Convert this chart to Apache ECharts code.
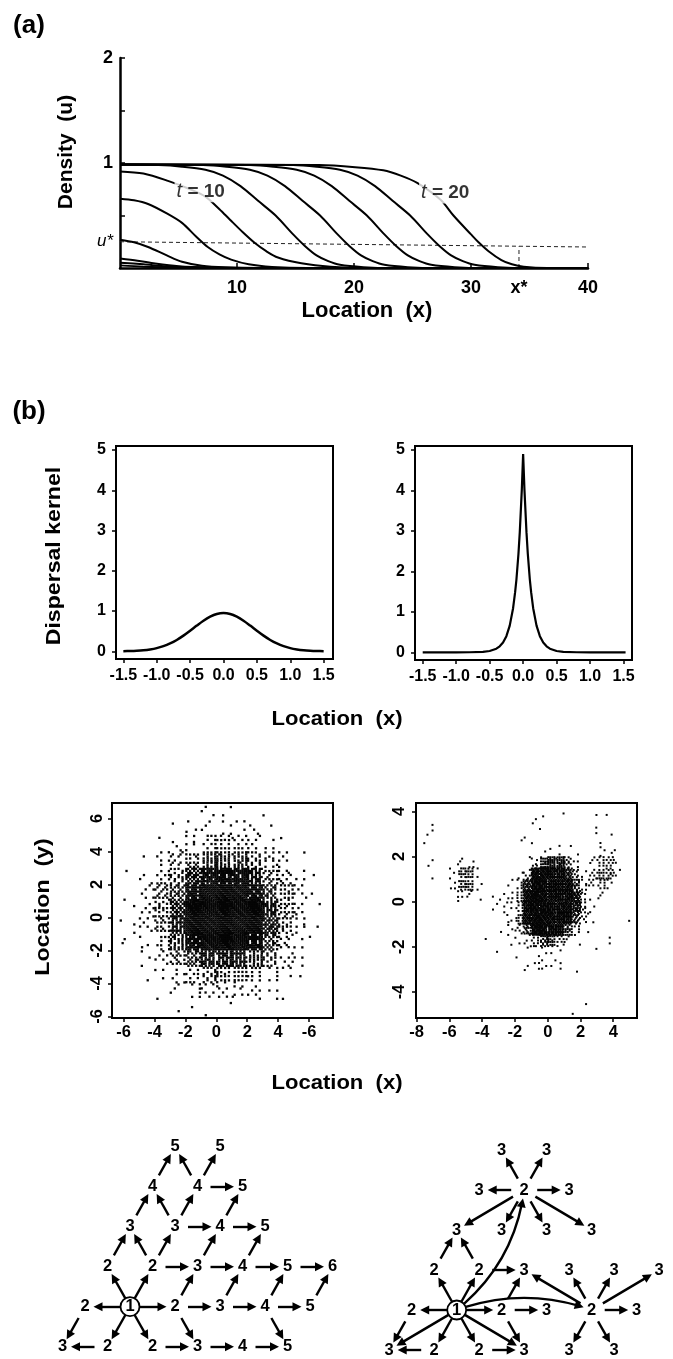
<!DOCTYPE html>
<html><head><meta charset="utf-8">
<script src="https://cdn.jsdelivr.net/npm/echarts@6/dist/echarts.min.js"></script>
<style>html,body{margin:0;padding:0;background:#fff}#c{width:673px;height:1359px}</style>
</head><body><div id="c"></div>
<script>
const FONT = "'Liberation Sans', Arial, Helvetica, sans-serif";

// ---------------- Panel (a): travelling wave ----------------
const waveTimes = [0, 2, 4, 6, 8, 10, 12, 14, 16, 18, 20];
const wave_t0  = [[0,0.025],[2,0.013],[5,0.003],[8,0],[40,0]];
const wave_t2  = [[0,0.05],[2,0.035],[4,0.016],[7,0.004],[10,0],[40,0]];
const wave_t4  = [[0,0.09],[1.5,0.07],[3,0.042],[5,0.016],[8,0.003],[11,0],[40,0]];
const wave_t6  = [[0,0.27],[1.2,0.245],[2.4,0.2],[4,0.12],[5.3,0.06],[7,0.022],[9,0.006],[12,0],[40,0]];
const wave_t8  = [[0,0.66],[1.2,0.645],[2.4,0.61],[4,0.52],[5.3,0.43],[6.5,0.3],[7.5,0.2],[8.5,0.13],[9.5,0.08],[11,0.035],[13,0.01],[16,0],[40,0]];
const wave_t10 = [[0,0.92],[2,0.9],[4.1,0.83],[6,0.75],[7.3,0.68],[8.5,0.56],[9.4,0.46],[10.5,0.34],[11.5,0.24],[12.5,0.16],[13.5,0.1],[15.5,0.045],[18,0.012],[21,0],[40,0]];
const wave_t12 = [[0,0.985],[3.3,0.98],[5.3,0.965],[7.3,0.935],[8.8,0.88],[10.3,0.78],[11.8,0.64],[13.3,0.5],[14.8,0.32],[15.8,0.21],[16.8,0.12],[17.8,0.065],[18.8,0.03],[20.8,0.008],[23.3,0],[40,0]];
const wave_t14 = [[0,0.985],[7.1,0.98],[9.1,0.965],[11.1,0.935],[12.6,0.88],[14.1,0.78],[15.6,0.64],[17.1,0.5],[18.6,0.32],[19.6,0.21],[20.6,0.12],[21.6,0.065],[22.6,0.03],[24.6,0.008],[27.1,0],[40,0]];
const wave_t16 = [[0,0.985],[11.1,0.98],[13.1,0.965],[15.1,0.935],[16.6,0.88],[18.1,0.78],[19.6,0.64],[21.1,0.5],[22.6,0.32],[23.6,0.21],[24.6,0.12],[25.6,0.065],[26.6,0.03],[28.6,0.008],[31.1,0],[40,0]];
const wave_t18 = [[0,0.985],[14.8,0.98],[16.8,0.965],[18.8,0.935],[20.3,0.88],[21.8,0.78],[23.3,0.64],[24.8,0.5],[26.3,0.32],[27.3,0.21],[28.3,0.12],[29.3,0.065],[30.3,0.03],[32.3,0.008],[34.8,0],[40,0]];
const wave_t20 = [[0,0.985],[17,0.98],[20.1,0.96],[22.5,0.93],[24,0.88],[25.4,0.81],[27.4,0.65],[28.5,0.5],[30,0.32],[30.6,0.25],[31.5,0.16],[32.6,0.076],[33.5,0.035],[34.5,0.012],[36.5,0],[40,0]];
const waveCurves = [wave_t0, wave_t2, wave_t4, wave_t6, wave_t8, wave_t10, wave_t12, wave_t14, wave_t16, wave_t18, wave_t20];
const uStarLine = [[0,0.25],[40,0.2]];
const xStar = 34.1;
const xStarLine = [[34.1,0],[34.1,0.205]];
const densityTicks = [0.5, 1, 1.5, 2];
const densityLabels = [0.25, 1, 2];
const locationTicksA = [10, 20, 30, 40];
const locationLabelsA = [10, 20, 30, 34.1, 40];
const tLabels = [[6.9, 0.73, '10'], [27.8, 0.72, '20']];

// ---------------- Panel (b): dispersal kernels ----------------
const kernelX = [-1.5,-1.4,-1.3,-1.2,-1.1,-1.0,-0.9,-0.8,-0.7,-0.6,-0.5,-0.4,-0.3,-0.2,-0.1,0,0.1,0.2,0.3,0.4,0.5,0.6,0.7,0.8,0.9,1.0,1.1,1.2,1.3,1.4,1.5];
const gaussKernel = [0.004,0.008,0.015,0.027,0.048,0.08,0.129,0.196,0.283,0.39,0.512,0.64,0.761,0.86,0.927,0.95,0.927,0.86,0.761,0.64,0.512,0.39,0.283,0.196,0.129,0.08,0.048,0.027,0.015,0.008,0.004];
const laplaceKernel = [[-1.5,0],[-1.0,0],[-0.8,0.002],[-0.6,0.012],[-0.5,0.033],[-0.4,0.09],[-0.35,0.148],[-0.3,0.24],[-0.25,0.4],[-0.2,0.66],[-0.15,1.09],[-0.12,1.48],[-0.1,1.8],[-0.07,2.43],[-0.05,2.97],[-0.02,4.01],[0,4.9],
  [0.02,4.01],[0.05,2.97],[0.07,2.43],[0.1,1.8],[0.12,1.48],[0.15,1.09],[0.2,0.66],[0.25,0.4],[0.3,0.24],[0.35,0.148],[0.4,0.09],[0.5,0.033],[0.6,0.012],[0.8,0.002],[1.0,0],[1.53,0]];
const kernelXTicks = [-1.5,-1,-0.5,0,0.5,1,1.5];
const kernelYTicks = [0,1,2,3,4,5];

// ---------------- Panel (b): dispersal clouds (dots per cell) ----------------
// left cloud: 1 x 1 cells, rows y0 = 6 .. -6 (top to bottom), columns x0 = -7 .. 7
const leftCloudCounts = [
  [0,0,0,0,0,0,3,2,0,0,1,0,0,0,0],
  [0,0,0,0,1,3,3,4,3,3,1,0,0,0,0],
  [0,0,0,1,3,6,10,12,10,6,3,1,0,0,0],
  [0,0,1,6,10,17,28,30,28,17,10,6,1,0,0],
  [0,1,3,10,17,42,56,58,56,42,17,10,3,1,0],
  [0,1,6,17,28,56,64,64,64,56,28,17,6,1,1],
  [0,1,6,17,42,64,64,64,64,64,42,17,6,1,0],
  [1,2,6,17,42,64,64,64,64,64,42,17,6,1,0],
  [1,1,3,10,28,56,64,64,64,56,28,10,3,1,0],
  [0,0,3,6,17,28,42,44,42,28,17,6,3,0,0],
  [0,0,1,3,6,10,17,18,17,10,6,3,1,0,0],
  [0,0,0,1,3,6,6,6,6,6,3,1,0,0,0],
  [0,0,0,0,1,1,1,1,0,0,0,0,0,0,0]
];
// right cloud: 0.5 x 0.5 cells, density level 0-9, rows y0 = 4.0 .. -5.5, columns x0 = -8.0 .. 5.0
const rightCloudLevels = [
  "000000000000000000000000000",
  "000000000000001101000101000",
  "020000000000001100000200000",
  "110000000000111000000011000",
  "000000000000000112110031100",
  "020003300000014788630355200",
  "010036620000249999852466300",
  "000036620002489999974453000",
  "000004310123599999984130000",
  "000000000223599999985200000",
  "000000000003699999974100010",
  "000000000013479999741000000",
  "000000001001235775310002000",
  "000000000100111211000100000",
  "000000000000013322000000000",
  "000000000000010000010000000",
  "000000000000000000000000000",
  "000000000000000000000000000",
  "000000000000000000011000000",
  "000000000000000000000000000"
];
const levelCounts = [0,1,2,3,5,8,12,18,28,44];
const leftCloudXTicks = [-6,-4,-2,0,2,4,6];
const leftCloudXTickText = ['-6','-4','-2','0','2','4','-6'];
const leftCloudYTicks = [-6,-4,-2,0,2,4,6];
const rightCloudXTicks = [-8,-6,-4,-2,0,2,4];
const rightCloudYTicks = [-4,-2,0,2,4];

// ---------------- Panel (b): spread networks (lattice coords) ----------------
const netLeftNodes = [[1,0,'1'],[0,0,'2'],[2,0,'2'],[3,0,'3'],[4,0,'4'],[5,0,'5'],
  [-0.5,-1,'3'],[0.5,-1,'2'],[1.5,-1,'2'],[2.5,-1,'3'],[3.5,-1,'4'],[4.5,-1,'5'],
  [0.5,1,'2'],[1.5,1,'2'],[2.5,1,'3'],[3.5,1,'4'],[4.5,1,'5'],[5.5,1,'6'],
  [1,2,'3'],[2,2,'3'],[3,2,'4'],[4,2,'5'],[1.5,3,'4'],[2.5,3,'4'],[3.5,3,'5'],[2,4,'5'],[3,4,'5']];
const netLeftEdges = [[0,1],[0,2],[0,12],[0,13],[0,7],[0,8],[1,6],[7,6],[8,9],[9,10],[10,11],
  [2,3],[2,9],[2,14],[3,4],[3,15],[4,5],[4,11],[4,16],[5,17],[12,18],[13,18],[13,19],[13,14],
  [14,15],[14,20],[15,16],[15,21],[16,17],[18,22],[19,22],[19,23],[19,20],[20,21],[20,24],
  [22,25],[23,25],[23,26],[23,24]];
const netRightNodes = [[1,0,'1'],[0,0,'2'],[2,0,'2'],[3,0,'3'],[4,0,'2'],[5,0,'3'],
  [-0.5,-1,'3'],[0.5,-1,'2'],[1.5,-1,'2'],[2.5,-1,'3'],[3.5,-1,'3'],[4.5,-1,'3'],
  [0.5,1,'2'],[1.5,1,'2'],[2.5,1,'3'],[3.5,1,'3'],[4.5,1,'3'],[5.5,1,'3'],
  [1,2,'3'],[2,2,'3'],[3,2,'3'],[4,2,'3'],[1.5,3,'3'],[2.5,3,'2'],[3.5,3,'3'],[2,4,'3'],[3,4,'3']];
const netRightEdges = [[0,1],[0,2],[0,12],[0,13],[0,7],[0,8],[0,6],[0,9],[0,23,-0.2],[0,4,0.18],
  [1,6],[7,6],[8,9],[2,3],[2,14],[2,9],[12,18],[13,18],[13,14],
  [23,22],[23,24],[23,25],[23,26],[23,19],[23,20],[23,21],[23,18],
  [4,5],[4,15],[4,16],[4,17],[4,10],[4,11],[4,14]];

// ---------------- build ----------------
const BAYER8 = [0,32,8,40,2,34,10,42,48,16,56,24,50,18,58,26,12,44,4,36,14,46,6,38,60,28,52,20,62,30,54,22,3,35,11,43,1,33,9,41,51,19,59,27,49,17,57,25,15,47,7,39,13,45,5,37,63,31,55,23,61,29,53,21];
const JIT = [0.3,-0.4,0.1,-0.2,0.45,-0.05,-0.35,0.2];

const leftCloudCells = [];
leftCloudCounts.forEach((row, r) => row.forEach((n, c) => { if (n > 0) leftCloudCells.push([-7 + c, 6 - r, n]); }));
const rightCloudCells = [];
rightCloudLevels.forEach((row, r) => row.split('').forEach((ch, k) => { const lv = +ch; if (lv > 0) rightCloudCells.push([-8 + 0.5 * k, 4.0 - 0.5 * r, levelCounts[lv]]); }));

function makeDots(cell, dot, jit) {
  return function (params, api) {
    const x0 = api.value(0), y0 = api.value(1), n = api.value(2);
    const pA = api.coord([x0, y0 + cell]);
    const pB = api.coord([x0 + cell, y0]);
    const sx = (pB[0] - pA[0]) / 8, sy = (pB[1] - pA[1]) / 8;
    const ci = Math.round(x0 / cell), cj = Math.round(y0 / cell);
    const shift = (((ci * 29 + cj * 47) % 64) + 64) % 64;
    const children = [];
    for (let k = 0; k < 64; k++) {
      if ((BAYER8[k] + shift) % 64 < n) {
        const i = k % 8, j = (k / 8) | 0;
        const jx = JIT[(i * 3 + j * 5 + ci + 640) % 8] * sx * jit;
        const jy = JIT[(i * 5 + j * 3 + cj + 640) % 8] * sy * jit;
        children.push({ type: 'rect', shape: { x: pA[0] + (i + 0.5) * sx - dot / 2 + jx, y: pA[1] + (j + 0.5) * sy - dot / 2 + jy, width: dot, height: dot }, style: { fill: '#050505' } });
      }
    }
    return { type: 'group', children };
  };
}

function axisBase(gridIndex, extra) {
  return Object.assign({ gridIndex, type: 'value', splitLine: { show: false } }, extra);
}
const lbl = (size, margin, extra) => Object.assign({ show: true, fontSize: size, fontWeight: 'bold', color: '#000', fontFamily: FONT, margin, hideOverlap: false }, extra || {});
const tickOut = (vals) => ({ show: true, inside: false, length: 4, lineStyle: { color: '#000', width: 1.5 }, customValues: vals });
const noLine = { show: false, onZero: false };

const grids = [
  { left: 120, top: 58, width: 468, height: 210 },
  { left: 116, top: 446, width: 217, height: 213, show: true, borderColor: '#000', borderWidth: 2 },
  { left: 415, top: 446, width: 217, height: 214, show: true, borderColor: '#000', borderWidth: 2 },
  { left: 112, top: 803, width: 221, height: 215, show: true, borderColor: '#000', borderWidth: 2 },
  { left: 416, top: 803, width: 221, height: 215, show: true, borderColor: '#000', borderWidth: 2 },
  { left: 40, top: 1126.7, width: 315, height: 240 },
  { left: 366.7, top: 1130, width: 315, height: 240 }
].map(g => Object.assign({ outerBoundsMode: 'none', containLabel: false, backgroundColor: 'transparent' }, g));

const xAxes = [
  axisBase(0, { min: 0, max: 40, axisLine: { show: true, onZero: false, lineStyle: { color: '#000', width: 2.5 } },
    axisTick: { show: true, inside: true, length: 5, lineStyle: { color: '#000', width: 1.5 }, customValues: locationTicksA },
    axisLabel: lbl(18, 11, { customValues: locationLabelsA, formatter: v => (v === xStar ? 'x*' : String(v)) }) }),
  axisBase(1, { min: -1.61, max: 1.64, axisLine: noLine, axisTick: tickOut(kernelXTicks),
    axisLabel: lbl(16, 9, { customValues: kernelXTicks, formatter: v => v.toFixed(1) }) }),
  axisBase(2, { min: -1.615, max: 1.626, axisLine: noLine, axisTick: tickOut(kernelXTicks),
    axisLabel: lbl(16, 9, { customValues: kernelXTicks, formatter: v => v.toFixed(1) }) }),
  axisBase(3, { min: -6.75, max: 7.55, axisLine: noLine, axisTick: tickOut(leftCloudXTicks),
    axisLabel: lbl(16.5, 6, { customValues: leftCloudXTicks, formatter: v => leftCloudXTickText[leftCloudXTicks.indexOf(v)] }) }),
  axisBase(4, { min: -8.04, max: 5.45, axisLine: noLine, axisTick: tickOut(rightCloudXTicks),
    axisLabel: lbl(16.5, 6, { customValues: rightCloudXTicks, formatter: v => String(v) }) }),
  axisBase(5, { min: -1, max: 6, show: false }),
  axisBase(6, { min: -1, max: 6, show: false })
];
const yAxes = [
  axisBase(0, { min: 0, max: 2, axisLine: { show: true, onZero: false, lineStyle: { color: '#000', width: 2.5 } },
    axisTick: { show: true, inside: true, length: 5, lineStyle: { color: '#000', width: 1.5 }, customValues: densityTicks },
    axisLabel: lbl(18, 7, { customValues: densityLabels, formatter: v => (v === densityLabels[0] ? '{u|u*}' : String(v)),
      rich: { u: { fontStyle: 'italic', fontWeight: 'normal', fontSize: 17, fontFamily: FONT, color: '#000' } } }) }),
  axisBase(1, { min: -0.19, max: 5.1, axisLine: noLine, axisTick: tickOut(kernelYTicks),
    axisLabel: lbl(16, 10, { customValues: kernelYTicks, formatter: v => String(v) }) }),
  axisBase(2, { min: -0.19, max: 5.1, axisLine: noLine, axisTick: tickOut(kernelYTicks),
    axisLabel: lbl(16, 10, { customValues: kernelYTicks, formatter: v => String(v) }) }),
  axisBase(3, { min: -6.1, max: 6.93, axisLine: noLine, axisTick: tickOut(leftCloudYTicks),
    axisLabel: lbl(16.5, 6, { customValues: leftCloudYTicks, rotate: 90, formatter: v => String(v) }) }),
  axisBase(4, { min: -5.15, max: 4.37, axisLine: noLine, axisTick: tickOut(rightCloudYTicks),
    axisLabel: lbl(16.5, 8, { customValues: rightCloudYTicks, rotate: 90, formatter: v => String(v) }) }),
  axisBase(5, { min: -1.5, max: 4.5, show: false }),
  axisBase(6, { min: -1.5, max: 4.5, show: false })
];

const series = [];
waveCurves.forEach((pts, i) => series.push({
  type: 'line', name: 't' + waveTimes[i], xAxisIndex: 0, yAxisIndex: 0, data: pts, showSymbol: false, symbol: 'none',
  smooth: 0.3, lineStyle: { color: '#000', width: 2 }, silent: true, z: 3
}));
series.push({ type: 'line', xAxisIndex: 0, yAxisIndex: 0, data: uStarLine, symbol: 'none', lineStyle: { color: '#222', width: 1, type: [4, 3] }, silent: true, z: 2 });
series.push({ type: 'line', xAxisIndex: 0, yAxisIndex: 0, data: xStarLine, symbol: 'none', lineStyle: { color: '#222', width: 1, type: [4, 3] }, silent: true, z: 2 });
series.push({ type: 'scatter', xAxisIndex: 0, yAxisIndex: 0, symbolSize: 0, z: 6, silent: true,
  data: tLabels.map(d => ({ value: [d[0], d[1]], lab: d[2] })),
  label: { show: true, position: 'inside', backgroundColor: '#fff', padding: [1, 2],
    formatter: p => '{i|t}{b| = ' + p.data.lab + '}',
    rich: { i: { fontStyle: 'italic', fontWeight: 'normal', fontSize: 20, fontFamily: FONT, color: '#000' },
            b: { fontWeight: 'bold', fontSize: 19, fontFamily: FONT, color: '#000' } } } });

series.push({ type: 'line', xAxisIndex: 1, yAxisIndex: 1, data: kernelX.map((x, i) => [x, gaussKernel[i]]), symbol: 'none', smooth: 0.3, lineStyle: { color: '#000', width: 2.5 }, silent: true });
series.push({ type: 'line', xAxisIndex: 2, yAxisIndex: 2, data: laplaceKernel, symbol: 'none', smooth: false, lineStyle: { color: '#000', width: 2.2 }, silent: true });

series.push({ type: 'custom', xAxisIndex: 3, yAxisIndex: 3, data: leftCloudCells, clip: true, silent: true, renderItem: makeDots(1, 2.3, 0.15) });
series.push({ type: 'custom', xAxisIndex: 4, yAxisIndex: 4, data: rightCloudCells, clip: true, silent: true, renderItem: makeDots(0.5, 2.0, 0.2) });

function netSeries(nodes, edges, axisIdx) {
  return {
    type: 'graph', coordinateSystem: 'cartesian2d', xAxisIndex: axisIdx, yAxisIndex: axisIdx, silent: true,
    symbol: 'circle', symbolSize: 26, itemStyle: { color: 'rgba(0,0,0,0)' },
    label: { show: true, position: 'inside', fontSize: 16.5, fontWeight: 'bold', color: '#000', fontFamily: FONT },
    edgeSymbol: ['circle', 'triangle'], edgeSymbolSize: [0.01, 9],
    lineStyle: { color: '#000', width: 2.4, opacity: 1, curveness: 0 },
    data: nodes.map((n, i) => {
      const item = { name: 'n' + axisIdx + '_' + i, value: [n[0], n[1]], label: { formatter: n[2] } };
      if (i === 0) { item.symbolSize = 19; item.itemStyle = { color: '#fff', borderColor: '#000', borderWidth: 1.8 }; }
      return item;
    }),
    links: edges.map(e => {
      const l = { source: 'n' + axisIdx + '_' + e[0], target: 'n' + axisIdx + '_' + e[1] };
      if (e[2]) l.lineStyle = { curveness: e[2] };
      return l;
    })
  };
}
series.push(netSeries(netLeftNodes, netLeftEdges, 5));
series.push(netSeries(netRightNodes, netRightEdges, 6));

const txt = (x, y, s, size, rot, sx) => ({ type: 'text', x, y, rotation: rot || 0, scaleX: sx || 1, silent: true,
  style: { text: s, font: 'bold ' + size + 'px ' + FONT, textAlign: 'center', textVerticalAlign: 'middle', fill: '#000' } });

const chart = echarts.init(document.getElementById('c'), null, { renderer: 'canvas' });
chart.setOption({
  animation: false,
  backgroundColor: '#fff',
  grid: grids, xAxis: xAxes, yAxis: yAxes, series,
  graphic: [
    txt(29, 26, '(a)', 26),
    txt(66, 152, 'Density  (u)', 21, Math.PI / 2),
    txt(367, 311, 'Location  (x)', 22),
    txt(29, 412, '(b)', 26),
    txt(54, 556, 'Dispersal kernel', 21, Math.PI / 2, 1.1),
    txt(337, 719, 'Location  (x)', 21, 0, 1.05),
    txt(43, 907, 'Location  (y)', 21, Math.PI / 2, 1.1),
    txt(337, 1083, 'Location  (x)', 21, 0, 1.05)
  ]
});
</script></body></html>
